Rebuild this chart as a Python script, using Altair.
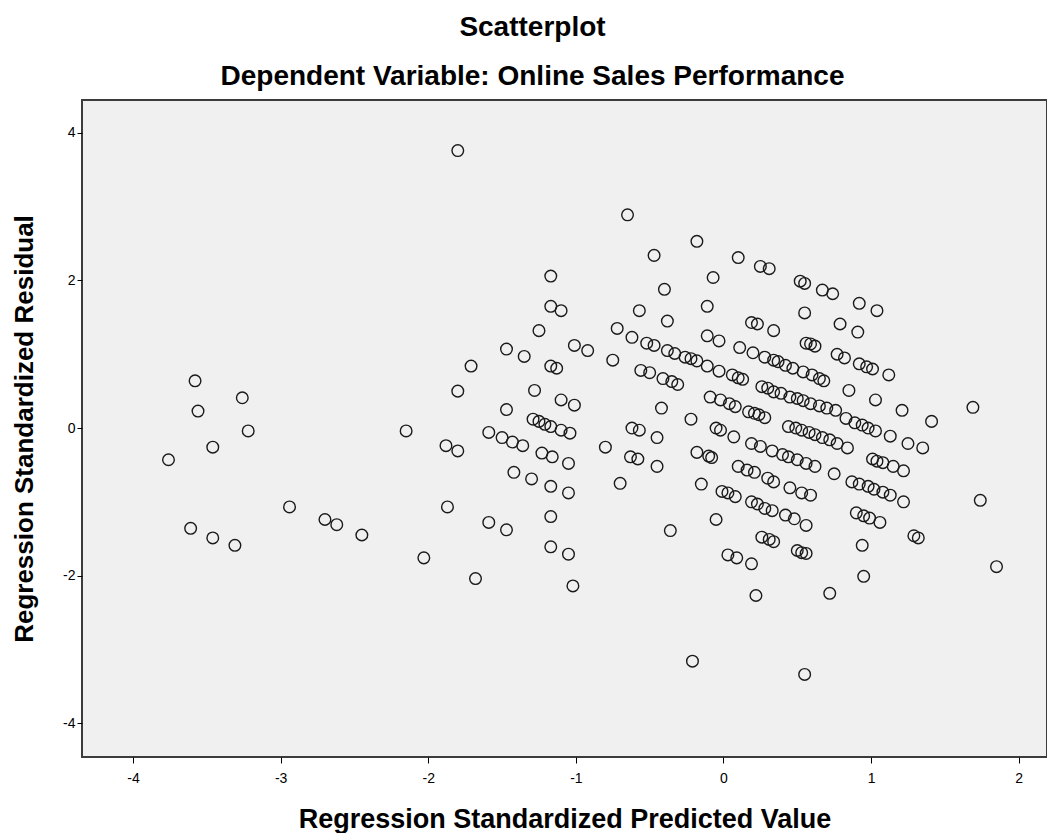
import altair as alt
import pandas as pd

# Regression standardized predicted value (x) and residual (y)
pred = [
    -3.76, -3.58, -3.56, -3.46, -3.26, -3.22, -3.61, -3.46, -3.31, -2.94, -2.70, -2.62, -2.45, -2.15, -2.03,
    -1.80, -1.17, -1.17, -1.10, -1.25, -0.72, -1.47, -1.35, -1.01, -0.92, -0.75, -1.71, -1.17, -1.13, -1.80,
    -1.28, -1.10, -1.01, -1.47, -1.59, -1.50, -1.43, -1.36, -1.29, -1.25, -1.21, -1.17, -1.10, -1.04, -1.88,
    -1.80, -1.23, -1.16, -1.05, -0.80, -1.42, -1.30, -1.17, -1.05, -0.70, -1.87, -1.17, -1.59, -1.47, -1.17,
    -1.05, -1.68, -1.02, -0.65, -0.18, -0.47, 0.10, 0.25, 0.31, -0.07, -0.40, 0.52, 0.55, 0.67, 0.74,
    -0.57, -0.11, -0.38, 0.55, 0.19, 0.23, 0.34, 0.79, 0.92, 1.04, 0.91, -0.62, -0.11, -0.03, 0.56,
    0.59, 0.62, 0.77, 0.82, -0.52, -0.47, -0.38, -0.33, -0.26, -0.22, -0.18, -0.11, -0.03, 0.06, 0.10,
    0.13, 0.11, 0.20, 0.28, 0.34, 0.37, 0.42, 0.47, 0.54, 0.60, 0.65, 0.68, -0.56, -0.50, -0.41,
    -0.35, -0.31, 0.26, 0.30, 0.34, 0.39, 0.45, 0.50, 0.54, 0.59, 0.65, 0.70, 0.76, -0.09, -0.02,
    0.04, 0.08, -0.42, 0.17, 0.21, 0.24, 0.28, -0.22, 0.44, 0.49, 0.53, 0.58, 0.62, 0.67, 0.72,
    0.77, 0.84, -0.62, -0.57, -0.45, -0.05, -0.02, 0.07, 0.19, 0.25, 0.33, 0.40, 0.44, 0.50, 0.56,
    0.62, -0.18, -0.10, -0.08, -0.63, -0.58, -0.45, 0.75, 0.10, 0.16, 0.21, 0.30, 0.34, -0.15, -0.01,
    0.03, 0.08, 0.45, 0.53, 0.59, 0.19, 0.23, 0.28, 0.33, 0.42, 0.48, 0.56, -0.05, -0.36, 0.92,
    0.97, 1.01, 1.12, 0.85, 1.03, 1.21, 1.41, 1.69, 0.83, 0.89, 0.94, 0.98, 1.03, 1.13, 1.25,
    1.35, 1.01, 1.04, 1.08, 1.15, 1.22, 0.87, 0.92, 0.98, 1.02, 1.08, 1.13, 1.22, 1.74, 0.90,
    0.95, 0.99, 1.06, 1.29, 1.32, 0.26, 0.31, 0.34, 0.03, 0.09, 0.19, 0.50, 0.53, 0.56, 0.22,
    0.72, -0.21, 0.55, 0.94, 0.95, 1.85,
]
resid = [
    -0.43, 0.64, 0.23, -0.26, 0.41, -0.04, -1.36, -1.49, -1.59, -1.07, -1.24, -1.31, -1.45, -0.04, -1.76,
    3.76, 2.06, 1.65, 1.59, 1.32, 1.35, 1.07, 0.97, 1.12, 1.05, 0.92, 0.84, 0.84, 0.81, 0.50,
    0.51, 0.38, 0.31, 0.25, -0.06, -0.13, -0.19, -0.24, 0.12, 0.09, 0.05, 0.02, -0.03, -0.07, -0.24,
    -0.31, -0.34, -0.39, -0.48, -0.26, -0.60, -0.69, -0.79, -0.88, -0.75, -1.07, -1.20, -1.28, -1.38, -1.61,
    -1.71, -2.04, -2.14, 2.89, 2.53, 2.34, 2.31, 2.19, 2.16, 2.04, 1.88, 1.99, 1.96, 1.87, 1.82,
    1.59, 1.65, 1.45, 1.56, 1.43, 1.41, 1.32, 1.41, 1.69, 1.59, 1.30, 1.23, 1.25, 1.18, 1.15,
    1.14, 1.11, 1.00, 0.95, 1.15, 1.12, 1.05, 1.01, 0.96, 0.94, 0.91, 0.84, 0.77, 0.72, 0.68,
    0.66, 1.09, 1.02, 0.96, 0.92, 0.90, 0.85, 0.81, 0.76, 0.72, 0.67, 0.64, 0.78, 0.75, 0.67,
    0.63, 0.59, 0.56, 0.54, 0.49, 0.47, 0.42, 0.40, 0.37, 0.33, 0.30, 0.27, 0.24, 0.42, 0.38,
    0.33, 0.29, 0.27, 0.22, 0.20, 0.18, 0.14, 0.12, 0.02, 0.00, -0.03, -0.06, -0.09, -0.13, -0.16,
    -0.21, -0.27, 0.00, -0.03, -0.13, 0.00, -0.03, -0.12, -0.21, -0.25, -0.31, -0.36, -0.39, -0.43, -0.48,
    -0.52, -0.33, -0.38, -0.40, -0.39, -0.42, -0.52, -0.62, -0.52, -0.57, -0.60, -0.68, -0.73, -0.76, -0.86,
    -0.88, -0.93, -0.81, -0.88, -0.91, -1.00, -1.03, -1.09, -1.12, -1.18, -1.23, -1.32, -1.24, -1.39, 0.87,
    0.83, 0.80, 0.72, 0.51, 0.38, 0.24, 0.09, 0.28, 0.13, 0.07, 0.04, 0.00, -0.04, -0.11, -0.21,
    -0.27, -0.42, -0.45, -0.47, -0.52, -0.58, -0.73, -0.76, -0.79, -0.83, -0.87, -0.91, -1.00, -0.98, -1.15,
    -1.19, -1.22, -1.28, -1.46, -1.49, -1.48, -1.51, -1.54, -1.72, -1.76, -1.84, -1.66, -1.69, -1.70, -2.27,
    -2.24, -3.16, -3.34, -1.59, -2.01, -1.88,
]

x_ticks = [-4, -3, -2, -1, 0, 1, 2]
y_ticks = [-4, -2, 0, 2, 4]

df = pd.DataFrame({"pred": pred, "resid": resid})

W, H = 965, 657
FONT = "Liberation Sans"

chart = (
    alt.Chart(df)
    .mark_point(shape="circle", filled=False, size=135, strokeWidth=1.4, color="#1a1a1a", opacity=1)
    .encode(
        x=alt.X(
            "pred:Q",
            scale=alt.Scale(domain=[-4.346, 2.192], nice=False, zero=False),
            axis=alt.Axis(
                values=x_ticks, grid=False, domain=False, tickSize=6, tickColor="#000000",
                labelExpr="'' + datum.value",
                labelFont=FONT, labelFontSize=14, labelColor="#000000", labelPadding=8,
                title="Regression Standardized Predicted Value", titleFont=FONT, titleFontSize=27,
                titleFontWeight="bold", titleColor="#000000", titleY=62, titleBaseline="middle",
            ),
        ),
        y=alt.Y(
            "resid:Q",
            scale=alt.Scale(domain=[-4.459, 4.446], nice=False, zero=False),
            axis=alt.Axis(
                values=y_ticks, grid=False, domain=False, tickSize=5, tickColor="#000000",
                labelExpr="'' + datum.value",
                labelFont=FONT, labelFontSize=14, labelColor="#000000", labelPadding=2,
                title="Regression Standardized Residual", titleFont=FONT, titleFontSize=26,
                titleFontWeight="bold", titleColor="#000000", titleX=-58, titleY=H / 2,
                titleAngle=270, titleBaseline="middle", titleAlign="center",
            ),
        ),
    )
    .properties(
        width=W,
        height=H,
        title=alt.TitleParams(
            text="Scatterplot",
            subtitle="Dependent Variable: Online Sales Performance",
            font=FONT, fontSize=28, fontWeight="bold", color="#000000",
            subtitleFont=FONT, subtitleFontSize=28, subtitleFontWeight="bold", subtitleColor="#000000",
            subtitlePadding=21, anchor="middle", dx=-32, offset=9,
        ),
        padding={"left": 74, "top": 92, "right": 0, "bottom": 76},
        autosize=alt.AutoSizeParams(type="none"),
    )
    .configure_view(fill="#f0f0f0", stroke="#3c3c3c", strokeWidth=2)
)

chart.save("out.html", embed_options={"renderer": "svg", "actions": False})
